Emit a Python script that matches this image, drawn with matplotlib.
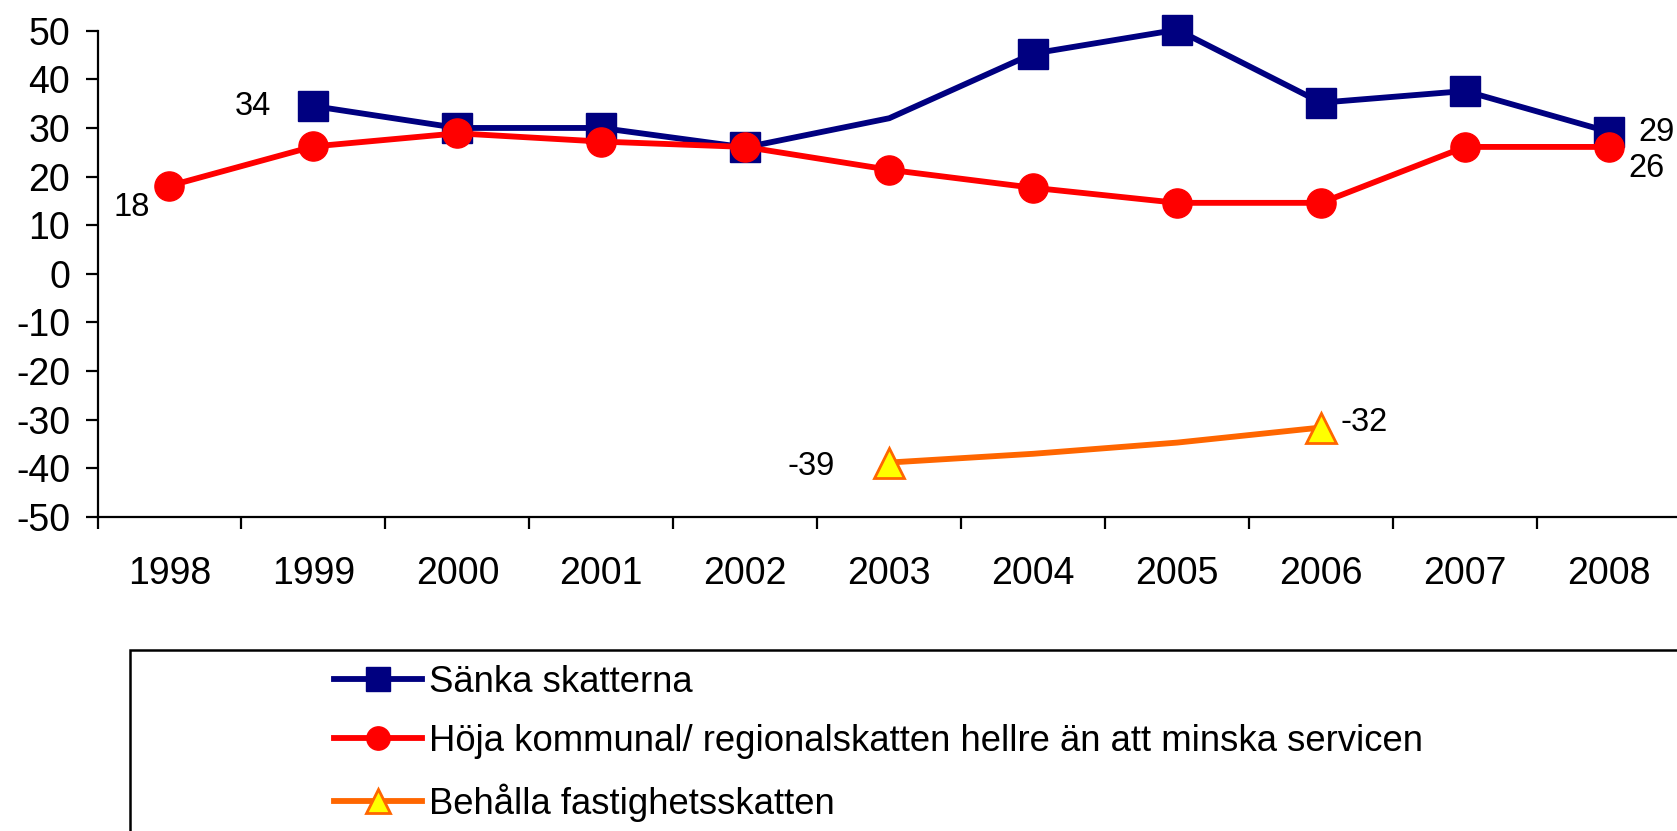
#! /usr/bin/env python3
import matplotlib
matplotlib.use('Agg')  # noqa E402
import matplotlib.pyplot as plt
from matplotlib.patches import Rectangle

plt.rcParams['font.family'] = ['Liberation Sans', 'DejaVu Sans']
plt.rcParams['axes.unicode_minus'] = False

years = ['1998', '1999', '2000', '2001', '2002', '2003',
         '2004', '2005', '2006', '2007', '2008']

# None = no value that year
sanka = [None, 34.5, 30, 30, 26, 32, 45.3, 50.2, 35.2, 37.6, 29.2]
hoja = [18.1, 26.2, 28.9, 27.2, 26.1, 21.4, 17.7, 14.6, 14.6, 26.1, 26.1]
behalla = [None, None, None, None, None, -38.8, -37.0, -34.7, -31.6, None, None]

# which points get a marker (Excel chart leaves some points bare)
sanka_marked = [1, 2, 3, 4, 6, 7, 8, 9, 10]
hoja_marked = list(range(11))
behalla_marked = [5, 8]

names = ['Sänka skatterna',
         'Höja kommunal/ regionalskatten hellre än att minska servicen',
         'Behålla fastighetsskatten']

# data labels: (series index, year index, text)
labels = [(0, 1, '34'), (0, 10, '29'), (1, 0, '18'), (1, 10, '26'),
          (2, 5, '-39'), (2, 8, '-32')]
label_offsets = {(0, 1): (-60, 0), (0, 10): (47, -1), (1, 0): (-38, -22),
                 (1, 10): (37, -22), (2, 5): (-78, -4), (2, 8): (43, 5)}


def xy(vals):
    xs = [i for i, v in enumerate(vals) if v is not None]
    return xs, [vals[i] for i in xs]


def draw():
    W, H = 1677, 831
    fig = plt.figure(figsize=(W / 100, H / 100), dpi=100)
    left, right, top, bottom = 97.5, 1681, 30.7, 517
    ax = fig.add_axes([left / W, (H - bottom) / H,
                       (right - left) / W, (bottom - top) / H])

    styles = [
        dict(color='#000080', marker='s', ms=21, mfc='#000080',
             mec='#000080', mew=1),
        dict(color='#FF0000', marker='o', ms=21, mfc='#FF0000',
             mec='#FF0000', mew=1),
        dict(color='#FF6600', marker='^', ms=22, mfc='#FFFF00',
             mec='#FF6600', mew=2),
    ]
    series = [sanka, hoja, behalla]
    marked = [sanka_marked, hoja_marked, behalla_marked]
    handles = []
    for vals, st, mk, name in zip(series, styles, marked, names):
        xs, ys = xy(vals)
        every = [xs.index(i) for i in mk]
        h, = ax.plot(xs, ys, lw=4.2, markevery=every, label=name,
                     clip_on=False, solid_joinstyle='miter', **st)
        handles.append(h)

    for si, yi, txt in labels:
        ax.annotate(txt, (yi, series[si][yi]),
                    xytext=label_offsets[(si, yi)],
                    textcoords='offset pixels', ha='center', va='center',
                    fontsize=23.5, annotation_clip=False)

    ax.set_xlim(-0.5, 10.5)
    ax.set_ylim(-50, 50)
    ax.set_yticks(range(-50, 51, 10))
    ax.set_xticks([i - 0.5 for i in range(12)])
    ax.set_xticklabels([])
    ax.set_xticks(range(11), minor=True)
    ax.set_xticklabels(years, minor=True)
    ax.tick_params(axis='x', which='major', direction='out', length=8.6,
                   width=1.6)
    ax.tick_params(axis='x', which='minor', length=0, pad=28, labelsize=27)
    ax.tick_params(axis='y', direction='out', length=8.8, width=1.6,
                   pad=11, labelsize=27)
    for s in ('top', 'right'):
        ax.spines[s].set_visible(False)
    for s in ('left', 'bottom'):
        ax.spines[s].set_linewidth(1.6)

    # legend box runs off the right and bottom edges
    fig.add_artist(Rectangle((130 / W, (H - 870) / H), 1600 / W, 220 / H,
                             transform=fig.transFigure, fill=False,
                             lw=1.8, ec='black', clip_on=False))
    fig.legend(handles=handles, loc='upper left',
               bbox_to_anchor=(334 / W, (H - 665) / H), frameon=False,
               fontsize=26.3, handlelength=2.4, handletextpad=0.2,
               labelspacing=0.66, borderpad=0, borderaxespad=0,
               numpoints=1, markerscale=0.8)

    fig.savefig('out.png', dpi=100)


if __name__ == '__main__':
    draw()
